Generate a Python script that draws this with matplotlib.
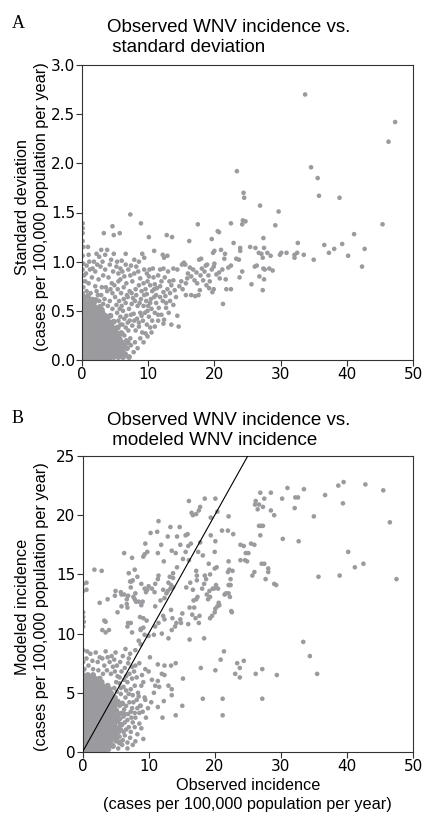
import numpy as np
import matplotlib.pyplot as plt

# === Panel A: observed incidence (x) vs. standard deviation (y) ===
a_sparse = [
    (33.7, 2.70), (47.3, 2.42), (46.3, 2.22), (23.4, 1.92), (34.6, 1.96), (35.6, 1.85), (24.4, 1.70), (24.5, 1.65),
    (35.8, 1.67), (38.9, 1.65), (7.3, 1.48), (26.9, 1.57), (29.7, 1.51), (45.4, 1.38), (24.3, 1.42), (24.7, 1.41),
    (24.2, 1.38), (17.5, 1.38), (22.5, 1.39), (29.2, 1.37), (8.9, 1.39), (4.6, 1.36), (0.1, 1.39), (0.1, 1.34),
    (0.1, 1.29), (3.3, 1.29), (5.7, 1.29), (4.8, 1.27), (10.1, 1.25), (12.8, 1.27), (13.6, 1.25), (16.2, 1.21),
    (19.6, 1.23), (20.5, 1.31), (20.7, 1.30), (27.4, 1.24), (41.1, 1.28), (22.9, 1.19), (32.6, 1.19), (36.6, 1.17),
    (39.3, 1.18), (38.1, 1.13), (42.7, 1.13), (37.3, 1.09), (40.2, 1.06), (42.3, 0.95), (35.0, 1.02), (33.5, 1.07),
    (32.5, 1.09), (32.1, 1.07), (32.1, 1.04), (30.9, 1.09), (30.1, 1.09), (29.9, 1.07), (28.5, 1.06), (28.0, 1.09),
    (27.5, 1.14), (27.1, 1.08), (26.7, 1.09), (27.3, 1.04), (25.4, 1.15), (26.2, 1.14), (23.9, 1.14), (23.9, 1.11),
    (21.0, 1.12), (21.6, 1.08), (21.5, 1.03), (23.3, 1.03), (23.7, 1.02), (26.1, 0.95), (26.4, 0.96), (27.4, 0.93),
    (27.6, 0.92), (28.3, 0.93), (28.8, 0.91), (26.8, 0.85), (27.5, 0.82), (23.8, 0.84), (24.2, 0.90), (25.6, 0.77),
    (27.3, 0.71), (21.8, 0.72), (22.5, 0.72), (21.3, 0.57), (19.8, 1.09), (20.0, 1.11), (18.0, 1.03), (17.7, 1.02),
    (18.9, 0.97), (15.3, 0.98), (15.6, 0.97),
]
a_mid = [
    (5.2, 0.95), (5.5, 0.88), (5.8, 0.82), (6.1, 0.90), (6.4, 0.85), (6.7, 0.78), (7.0, 0.92), (7.3, 0.86),
    (7.6, 0.80), (7.9, 0.88), (8.2, 0.95), (8.5, 0.90), (8.8, 0.83), (5.4, 0.72), (5.9, 0.68), (6.3, 0.74),
    (6.8, 0.66), (7.2, 0.70), (7.7, 0.63), (8.1, 0.72), (8.6, 0.76), (9.0, 0.70), (5.6, 0.60), (6.0, 0.55),
    (6.6, 0.58), (7.1, 0.52), (7.5, 0.57), (8.0, 0.60), (8.4, 0.55), (8.9, 0.62), (5.3, 0.48), (5.8, 0.44),
    (6.2, 0.50), (6.7, 0.45), (7.2, 0.40), (7.8, 0.47), (8.3, 0.42), (8.8, 0.48), (9.2, 0.40), (6.1, 0.36),
    (6.6, 0.33), (7.0, 0.30), (7.6, 0.35), (8.1, 0.30), (8.6, 0.34), (9.1, 0.28), (9.6, 0.27), (6.4, 0.25),
    (7.3, 0.22), (8.0, 0.18), (8.4, 0.12), (7.8, 0.08),
    (9.3, 0.78), (9.6, 0.72), (9.9, 0.80), (10.2, 0.92), (10.7, 0.93), (9.8, 0.88), (10.3, 0.76), (10.6, 0.70),
    (11.0, 0.77), (11.3, 0.73), (11.8, 0.75), (12.3, 0.69), (11.8, 0.64), (10.9, 0.64), (10.4, 0.62), (9.7, 0.60),
    (9.4, 0.66), (10.0, 0.55), (10.5, 0.52), (11.2, 0.58), (11.6, 0.53), (12.2, 0.60), (12.7, 0.58), (12.7, 0.53),
    (13.3, 0.60), (13.8, 0.56), (9.5, 0.48), (10.1, 0.44), (10.6, 0.40), (11.0, 0.34), (11.5, 0.46), (12.3, 0.37),
    (12.4, 0.41), (13.5, 0.36), (14.6, 0.34), (14.4, 0.45), (9.8, 0.36), (10.3, 0.33), (10.9, 0.72), (11.8, 0.92),
    (12.3, 0.93), (13.0, 0.90), (13.8, 0.93), (14.4, 0.92), (12.2, 1.07), (12.4, 1.04), (12.9, 1.06), (10.9, 1.11),
    (9.4, 1.04), (9.1, 1.08), (12.5, 0.84), (13.2, 0.80), (13.8, 0.81), (13.5, 0.76), (14.0, 0.71), (12.9, 0.72),
    (13.3, 0.68), (14.2, 0.64), (11.5, 0.86), (10.8, 0.84), (12.0, 0.80),
    (15.1, 0.97), (15.4, 0.99), (16.3, 0.94), (16.8, 0.92), (17.3, 0.89), (18.1, 0.93), (18.7, 0.96), (19.1, 0.86),
    (19.6, 0.92), (19.9, 0.95), (20.3, 0.87), (20.7, 0.89), (20.8, 0.83), (21.7, 0.82), (22.1, 0.94), (22.5, 0.96),
    (16.5, 0.85), (17.0, 0.81), (17.4, 0.78), (15.9, 0.83), (15.7, 0.78), (15.0, 0.80), (14.7, 0.75), (18.3, 0.81),
    (18.8, 0.76), (19.2, 0.73), (17.8, 0.71), (17.6, 0.66), (16.5, 0.66), (17.1, 0.65), (15.7, 0.66), (19.7, 0.69),
    (19.9, 0.72), (15.2, 0.72), (16.0, 0.88), (17.9, 0.86), (19.3, 0.80), (18.5, 0.90), (20.0, 0.98), (21.2, 0.92),
]
a_left = [
    (0.1, 1.21), (0.2, 1.15), (0.1, 1.06), (0.2, 0.98), (0.1, 0.92), (0.3, 0.86), (0.1, 0.80), (0.2, 0.74),
    (0.1, 0.68), (0.3, 0.62), (0.1, 0.57), (0.2, 0.52), (0.9, 1.15), (1.0, 1.07), (2.2, 1.08), (2.9, 1.12),
    (3.5, 1.07), (4.8, 1.08), (6.6, 1.08), (6.0, 1.01), (5.3, 1.00), (3.8, 1.12), (2.6, 1.05), (1.8, 1.00),
    (1.2, 0.92), (2.0, 0.90), (2.8, 0.95), (3.5, 0.92), (4.2, 0.97), (4.7, 0.90), (1.5, 0.84), (2.5, 0.82),
    (3.2, 0.86), (4.0, 0.84), (4.5, 0.78), (1.0, 0.78), (2.0, 0.75), (3.0, 0.74), (3.8, 0.70), (4.6, 0.68),
    (1.3, 0.68), (2.4, 0.66), (3.4, 0.62), (4.2, 0.60), (5.0, 0.64),
    (1.6, 0.62), (2.2, 0.70), (2.9, 0.66), (3.6, 0.74), (4.3, 0.72), (4.9, 0.76), (5.5, 0.80), (1.9, 0.58),
    (2.6, 0.60), (3.2, 0.57), (3.9, 0.55), (4.6, 0.52), (5.2, 0.56), (5.7, 0.52), (6.3, 0.62), (6.9, 0.64),
    (7.5, 0.68), (8.2, 0.66), (8.7, 0.58), (9.3, 0.55), (9.9, 0.50), (9.0, 0.45), (8.6, 0.38), (7.9, 0.40),
    (7.4, 0.46), (6.9, 0.38), (6.4, 0.42), (5.8, 0.36), (5.5, 0.40), (5.2, 0.33), (5.9, 0.28), (6.7, 0.20),
    (7.4, 0.15), (8.8, 0.22), (9.3, 0.18), (9.9, 0.24), (10.5, 0.28), (11.5, 0.40), (12.0, 0.46), (11.0, 0.48),
    (10.3, 0.58), (11.2, 0.66), (12.6, 0.65), (13.1, 0.48), (9.8, 0.67), (10.1, 0.85), (9.4, 0.92), (8.6, 1.00),
    (7.9, 1.02), (7.4, 0.96), (6.6, 0.97), (5.8, 0.93), (4.4, 1.02), (3.1, 1.00), (2.3, 0.97), (1.6, 0.93),
    (0.7, 0.96), (0.6, 0.88), (0.5, 0.80), (0.7, 0.70), (0.6, 0.64), (1.1, 1.00),
]
# dense cluster near the origin, read row by row (sd level -> observed values)
a_blob_sd = [0.00, 0.03, 0.06, 0.09, 0.12, 0.15, 0.18, 0.21, 0.24, 0.27, 0.30,
             0.33, 0.36, 0.39, 0.42, 0.45, 0.48, 0.51, 0.54, 0.57, 0.61, 0.65]
a_blob_obs = [
    [0.2, 0.7, 1.2, 1.7, 2.2, 2.6, 3.4, 4.1],
    [0.1, 0.6, 1.2, 1.8, 2.4, 2.9, 3.5, 4.1, 4.8, 5.5, 6.2, 7.1],
    [0.3, 0.8, 1.4, 2.0, 2.6, 3.2, 3.8, 4.4, 5.0, 5.8, 6.5],
    [0.1, 0.6, 1.1, 1.7, 2.3, 2.9, 3.5, 4.2, 4.9, 5.4, 6.1],
    [0.3, 0.9, 1.4, 2.0, 2.6, 3.3, 3.9, 4.6, 5.2, 5.9, 6.8],
    [0.1, 0.6, 1.2, 1.8, 2.4, 3.0, 3.6, 4.3, 5.0, 5.6, 6.3],
    [0.3, 0.9, 1.5, 2.1, 2.7, 3.3, 4.0, 4.7, 5.3, 6.0, 6.9],
    [0.1, 0.6, 1.2, 1.8, 2.4, 3.0, 3.7, 4.4, 5.1, 5.7],
    [0.3, 0.9, 1.5, 2.1, 2.8, 3.4, 4.1, 4.8, 5.5],
    [0.1, 0.6, 1.2, 1.8, 2.5, 3.1, 3.8, 4.6, 5.3, 6.0],
    [0.3, 0.9, 1.5, 2.2, 2.8, 3.5, 4.2, 5.0],
    [0.1, 0.6, 1.2, 1.9, 2.5, 3.2, 3.9, 4.6, 5.4],
    [0.3, 0.9, 1.6, 2.2, 2.9, 3.6, 4.4],
    [0.1, 0.6, 1.3, 1.9, 2.6, 3.3, 4.0, 4.8],
    [0.3, 1.0, 1.6, 2.3, 3.0, 3.8],
    [0.1, 0.7, 1.3, 2.0, 2.7, 3.5, 4.3],
    [0.4, 1.0, 1.7, 2.4, 3.1],
    [0.1, 0.8, 1.4, 2.2, 3.0],
    [0.4, 1.1, 1.9, 2.7],
    [0.1, 0.8, 1.6],
    [0.3, 1.2, 2.1],
    [0.1, 0.9],
]
a_xticks = [0, 10, 20, 30, 40, 50]
a_yticks = [0.0, 0.5, 1.0, 1.5, 2.0, 2.5, 3.0]

# === Panel B: observed incidence (x) vs. modeled incidence (y) ===
b_right = [
    (24.4, 17.4), (25.1, 16.8), (24.9, 16.1), (26.0, 17.5), (27.5, 15.9), (28.1, 15.2), (26.0, 15.2), (26.7, 19.1),
    (27.0, 19.1), (26.2, 21.2), (26.7, 20.9), (23.9, 17.5), (24.7, 16.8), (23.9, 16.2), (24.6, 16.2), (25.5, 17.6),
    (27.1, 15.9), (28.1, 15.5), (25.7, 14.9), (27.7, 14.6), (29.3, 14.1), (26.9, 18.3), (27.3, 19.1), (30.3, 18.0),
    (32.7, 17.8), (42.8, 22.6), (39.5, 22.8), (38.7, 22.5), (36.7, 21.7), (45.5, 22.1), (33.5, 22.2), (31.0, 22.3),
    (32.6, 21.5), (32.2, 21.5), (30.2, 21.4), (28.5, 21.9), (26.9, 21.9), (27.5, 21.4), (26.1, 20.9), (26.5, 20.5),
    (27.3, 20.7), (28.5, 20.4), (29.0, 20.0), (32.1, 20.6), (35.0, 19.9), (39.4, 21.0), (46.5, 19.4), (40.2, 16.9),
    (42.5, 15.9), (41.2, 15.6), (38.9, 14.9), (35.7, 14.8), (47.5, 14.6), (29.0, 14.2), (22.5, 11.9), (20.1, 12.1),
    (20.4, 12.3), (19.6, 11.5), (21.5, 13.3), (22.3, 14.1), (33.4, 9.3), (34.4, 8.1), (35.5, 6.6), (29.4, 6.5),
    (27.2, 7.0), (26.2, 6.6), (24.4, 7.7), (23.4, 7.5), (23.8, 7.1), (23.1, 6.6), (23.8, 6.3), (20.9, 7.8),
    (21.4, 8.5), (20.1, 6.9), (17.9, 7.1), (18.4, 9.6), (16.2, 9.5), (18.2, 4.5), (21.2, 4.5), (27.2, 4.5),
    (21.2, 3.1), (14.1, 3.1), (12.1, 2.9), (15.1, 3.9), (15.2, 6.2),
]
b_upper = [
    (0.1, 14.2), (0.6, 14.3), (0.6, 13.7), (1.8, 15.4), (2.9, 15.3), (2.6, 12.6), (3.8, 12.9), (5.0, 13.6),
    (4.9, 13.2), (5.9, 12.3), (6.9, 13.2), (6.7, 12.9), (5.3, 11.8), (6.8, 12.2), (3.5, 11.0), (6.9, 10.9),
    (8.7, 11.4), (9.2, 11.3), (9.7, 11.1), (8.8, 10.4), (9.2, 10.5),
    (7.0, 15.1), (7.9, 15.4), (7.4, 14.4), (8.3, 14.8), (7.5, 16.4), (6.3, 16.8), (9.2, 16.5), (9.4, 16.7),
    (9.8, 16.9), (9.5, 17.6), (10.3, 18.5), (11.3, 18.6), (11.5, 19.5), (11.4, 16.8), (11.9, 17.5), (12.3, 16.1),
    (12.9, 18.2), (13.3, 19.0), (13.5, 17.0), (14.1, 16.8), (14.3, 18.2), (14.7, 19.0), (15.6, 18.3), (16.0, 17.4),
    (15.6, 16.9), (15.9, 18.4), (15.2, 16.3), (14.8, 17.5), (16.4, 17.6), (17.5, 16.9), (16.1, 16.2),
    (16.5, 20.2), (16.7, 20.0), (17.2, 20.1), (17.6, 20.4), (16.1, 21.2), (17.8, 20.7), (18.5, 21.4), (20.1, 21.4),
    (20.4, 20.3), (19.4, 19.8), (22.1, 19.9), (21.1, 18.7), (22.0, 18.7), (22.8, 18.4), (20.0, 16.9), (20.1, 17.8),
    (19.4, 18.3), (22.1, 16.1), (17.8, 17.7), (18.2, 16.6), (19.1, 15.9),
    (14.3, 15.6), (13.7, 15.1), (13.2, 14.8), (13.7, 14.7), (13.0, 14.3), (13.4, 14.1), (13.7, 13.9), (12.9, 13.6),
    (13.3, 13.8), (12.2, 13.7), (12.7, 13.4), (12.4, 13.0), (11.8, 12.8), (11.5, 14.9), (11.4, 14.6), (11.0, 14.2),
    (10.5, 13.8), (10.9, 13.5), (10.0, 14.0), (9.8, 13.7), (9.6, 13.5), (9.4, 13.8), (8.9, 14.2), (9.1, 12.7),
    (8.9, 12.4), (8.5, 12.7), (8.0, 13.4), (7.6, 14.5), (7.2, 14.4), (7.3, 13.9), (7.7, 13.1), (7.9, 12.9),
    (8.1, 12.7), (6.3, 13.3), (5.8, 13.5), (5.9, 13.3), (6.7, 12.5),
    (11.0, 12.3), (12.2, 11.5), (12.4, 11.2), (13.4, 12.0), (14.2, 10.9), (13.6, 11.3), (15.1, 11.7), (14.9, 10.9),
    (16.2, 12.2), (16.9, 12.2), (16.8, 12.8), (17.2, 12.9), (17.4, 13.1), (16.6, 11.6), (17.1, 11.3), (17.6, 10.9),
    (17.7, 11.5), (18.8, 13.3), (19.0, 12.9), (19.3, 13.1), (19.3, 11.3), (20.0, 11.8), (20.6, 12.6), (20.7, 12.4),
    (22.1, 13.4), (22.3, 13.1), (22.6, 11.8), (19.2, 13.6), (19.7, 13.8),
    (17.2, 15.3), (17.3, 14.9), (17.3, 14.5), (18.5, 14.9), (18.7, 14.6), (18.4, 14.2), (18.1, 13.8), (19.3, 15.0),
    (20.0, 15.5), (20.3, 15.6), (22.0, 15.2), (22.2, 15.4), (22.7, 15.3), (22.4, 14.6), (22.1, 14.1), (21.7, 13.4),
    (20.5, 13.8), (20.2, 14.1), (19.9, 13.8), (22.4, 14.1), (16.7, 13.7), (16.3, 14.3), (15.7, 13.9),
]
b_lower = [
    (4.0, 10.3), (3.3, 11.1), (3.0, 10.3), (3.5, 10.1), (7.5, 10.1), (7.3, 10.9), (6.8, 10.6), (8.8, 10.3),
    (9.4, 9.9), (8.5, 9.4), (8.8, 9.1), (10.0, 9.8), (10.8, 9.9), (11.0, 10.6), (11.5, 10.9), (12.0, 10.0),
    (13.0, 9.6), (13.5, 10.3), (14.0, 10.6), (14.8, 11.2), (16.0, 10.8),
    (6.5, 8.7), (7.0, 7.9), (7.5, 7.2), (7.2, 8.3), (8.0, 8.6), (10.2, 8.0), (11.4, 7.4), (12.4, 7.3),
    (13.4, 7.3), (14.1, 7.5), (12.0, 6.6), (12.4, 6.5), (11.4, 6.0), (11.6, 5.5), (11.0, 5.6), (13.0, 5.6),
    (13.5, 5.3), (13.5, 4.8), (12.3, 4.3), (10.8, 5.0), (9.5, 4.4), (9.9, 3.7), (11.4, 3.8), (8.7, 3.9),
    (8.5, 4.7), (10.5, 6.1), (9.0, 6.5), (9.5, 7.0), (8.6, 7.5), (10.0, 6.8), (9.2, 5.9), (8.2, 6.3), (7.8, 6.8),
    (0.3, 7.0), (0.9, 7.3), (1.6, 7.0), (2.3, 7.6), (3.0, 7.9), (3.5, 8.5), (1.2, 8.3), (2.6, 8.0),
    (3.3, 7.3), (4.1, 7.6), (4.6, 7.2), (4.9, 6.8), (5.3, 6.4), (5.9, 6.8), (6.4, 7.1), (6.6, 6.4),
    (5.6, 5.8), (6.2, 5.5), (6.8, 5.9), (7.3, 5.3), (7.9, 5.6), (8.4, 5.0), (8.9, 5.6), (5.8, 4.9),
    (6.5, 4.6), (7.1, 4.2), (7.6, 4.8), (8.2, 4.4), (8.8, 3.9), (9.4, 4.6), (10.4, 4.2), (5.6, 3.9),
    (6.3, 3.6), (6.9, 3.2), (7.5, 3.7), (8.0, 2.9), (8.6, 3.3), (5.7, 2.8), (6.4, 2.5), (7.0, 2.1),
    (7.6, 2.5), (8.3, 1.5), (8.0, 0.9), (5.8, 1.9), (6.4, 1.4), (7.2, 1.2), (6.0, 0.6), (5.4, 0.3),
    (7.6, 0.6), (2.7, 0.4),
    (4.8, 7.8), (5.2, 7.3), (5.7, 7.6), (6.1, 8.1), (6.9, 7.5), (5.0, 8.4), (4.4, 8.1), (3.8, 8.0),
    (2.0, 8.4), (1.5, 7.7), (0.6, 7.9), (4.3, 6.6), (3.7, 6.9), (3.1, 6.6), (2.4, 6.9), (5.1, 5.9),
    (5.6, 6.3), (6.3, 6.1), (7.1, 6.6), (7.5, 6.2), (8.0, 7.3), (4.8, 5.4), (5.2, 5.1), (5.8, 5.4),
    (6.6, 5.2), (7.0, 4.9), (7.7, 4.2), (8.3, 3.7), (9.1, 3.4), (9.6, 2.9), (5.0, 4.6), (5.4, 4.3),
    (6.0, 4.1), (6.6, 3.9), (7.3, 3.4), (7.9, 3.3), (4.9, 3.8), (5.2, 3.4), (5.9, 3.3), (6.2, 3.0),
    (6.8, 2.7), (7.4, 2.9), (5.3, 2.6), (6.0, 2.3), (6.6, 1.9), (7.3, 1.7), (7.9, 2.1), (8.6, 2.4),
    (5.2, 1.7), (5.6, 1.3), (6.1, 1.0), (6.8, 0.8), (5.0, 0.9), (4.6, 0.5), (4.9, 1.3), (5.5, 2.1),
    (6.2, 1.7), (8.9, 2.0), (9.2, 1.1), (6.8, 0.3), (4.0, 0.2),
]
b_left = [(0.1, 13.6), (0.1, 11.8), (0.1, 11.4), (0.2, 11.0), (0.1, 10.6), (0.1, 8.6), (0.7, 8.5),
          (0.1, 7.6), (0.1, 6.9)]
# dense cluster near the origin, read row by row (modeled level -> observed values)
b_blob_mod = [0.2, 0.5, 0.8, 1.1, 1.4, 1.7, 2.0, 2.3, 2.6, 2.9, 3.2,
              3.5, 3.8, 4.1, 4.4, 4.7, 5.0, 5.3, 5.6, 5.9, 6.2, 6.5]
b_blob_obs = [
    [0.2, 0.7, 1.2, 1.7, 2.3, 2.9, 3.5],
    [0.1, 0.5, 1.0, 1.5, 2.0, 2.6, 3.2, 3.9, 4.6],
    [0.3, 0.8, 1.3, 1.8, 2.4, 3.0, 3.6, 4.2, 5.6],
    [0.1, 0.6, 1.1, 1.6, 2.1, 2.7, 3.3, 3.9, 4.5, 5.1],
    [0.3, 0.8, 1.3, 1.9, 2.5, 3.1, 3.7, 4.3, 5.0],
    [0.1, 0.6, 1.1, 1.6, 2.2, 2.8, 3.4, 4.0, 4.7, 5.4],
    [0.3, 0.8, 1.4, 1.9, 2.5, 3.1, 3.7, 4.4, 5.1],
    [0.1, 0.6, 1.1, 1.7, 2.3, 2.9, 3.5, 4.1, 4.8, 5.8],
    [0.3, 0.9, 1.4, 2.0, 2.6, 3.2, 3.9, 4.6, 5.3],
    [0.1, 0.6, 1.2, 1.7, 2.3, 2.9, 3.6, 4.3, 5.0],
    [0.3, 0.9, 1.5, 2.0, 2.6, 3.2, 3.9, 4.6, 5.5, 6.3],
    [0.1, 0.6, 1.2, 1.8, 2.4, 3.0, 3.7, 4.4, 5.1],
    [0.4, 0.9, 1.5, 2.1, 2.7, 3.4, 4.1, 4.8],
    [0.1, 0.7, 1.2, 1.8, 2.4, 3.0, 3.7, 4.4, 5.2, 6.0],
    [0.4, 1.0, 1.6, 2.1, 2.8, 3.5, 4.2, 4.9],
    [0.1, 0.7, 1.3, 1.9, 2.5, 3.2, 3.9, 4.7],
    [0.4, 1.0, 1.6, 2.3, 2.9, 3.6, 4.3],
    [0.1, 0.7, 1.3, 2.0, 2.6, 3.3, 4.1],
    [0.4, 1.0, 1.7, 2.3, 3.0, 3.8],
    [0.1, 0.8, 1.4, 2.1, 2.9],
    [0.4, 1.1, 1.9, 2.6],
    [0.1, 0.8, 1.6],
]
b_xticks = [0, 10, 20, 30, 40, 50]
b_yticks = [0, 5, 10, 15, 20, 25]

pt_color = '#9b9b9f'
sans = 'Liberation Sans'
plt.rcParams['font.family'] = ['DejaVu Sans']


def unpack(*groups):
    xs, ys = [], []
    for g in groups:
        for x, y in g:
            xs.append(x)
            ys.append(y)
    return np.array(xs), np.array(ys)


def unpack_rows(levels, rows):
    xs, ys = [], []
    for lev, row in zip(levels, rows):
        for x in row:
            xs.append(x)
            ys.append(lev)
    return np.array(xs), np.array(ys)


def style_axes(ax, xticks, yticks, yfmt):
    ax.set_xlim(xticks[0], xticks[-1])
    ax.set_ylim(yticks[0], yticks[-1])
    ax.set_xticks(xticks)
    ax.set_yticks(yticks)
    ax.set_yticklabels([yfmt.format(v) for v in yticks])
    ax.tick_params(labelsize=11, length=4, width=0.8, color='#333333', pad=1)
    for s in ax.spines.values():
        s.set_linewidth(0.8)
        s.set_color('#333333')


fig = plt.figure(figsize=(4.23, 8.16), dpi=100)

# === Panel A ===
ax_a = fig.add_axes([82 / 423, 1 - 360 / 816, 331 / 423, 295 / 816])
xa1, ya1 = unpack(a_sparse, a_mid, a_left)
xa2, ya2 = unpack_rows(a_blob_sd, a_blob_obs)
ax_a.scatter(xa1, ya1, s=11, color=pt_color, edgecolors='none', zorder=2)
ax_a.scatter(xa2, ya2, s=18, color=pt_color, edgecolors='none', zorder=2)
style_axes(ax_a, a_xticks, a_yticks, '{:.1f}')
ax_a.set_ylabel('Standard deviation\n(cases per 100,000 population per year)',
                family=sans, fontsize=11.7, linespacing=1.35)
ax_a.yaxis.set_label_coords(-0.10, 0.52)
fig.text(107 / 423, 1 - 52 / 816, 'Observed WNV incidence vs.\n standard deviation',
         family=sans, fontsize=13.5, ha='left', va='baseline', multialignment='left')
fig.text(12 / 423, 1 - 28 / 816, 'A', family='Liberation Serif', fontsize=13, va='baseline')

# === Panel B ===
ax_b = fig.add_axes([82.5 / 423, 1 - 752 / 816, 330.5 / 423, 296 / 816])
xb1, yb1 = unpack(b_right, b_upper, b_lower, b_left)
xb2, yb2 = unpack_rows(b_blob_mod, b_blob_obs)
ax_b.scatter(xb1, yb1, s=11, color=pt_color, edgecolors='none', zorder=2)
ax_b.scatter(xb2, yb2, s=18, color=pt_color, edgecolors='none', zorder=2)
ax_b.axline((0, 0), slope=1, color='black', linewidth=0.8, zorder=3)
style_axes(ax_b, b_xticks, b_yticks, '{:d}')
ax_b.set_ylabel('Modeled incidence\n(cases per 100,000 population per year)',
                family=sans, fontsize=11.7, linespacing=1.35)
ax_b.yaxis.set_label_coords(-0.10, 0.49)
ax_b.set_xlabel('Observed incidence\n(cases per 100,000 population per year)',
                family=sans, fontsize=11.7, linespacing=1.35)
ax_b.xaxis.set_label_coords(0.5, -0.088)
fig.text(107 / 423, 1 - 445 / 816, 'Observed WNV incidence vs.\n modeled WNV incidence',
         family=sans, fontsize=13.5, ha='left', va='baseline', multialignment='left')
fig.text(12 / 423, 1 - 423 / 816, 'B', family='Liberation Serif', fontsize=13, va='baseline')

fig.savefig('out.png', dpi=100)
